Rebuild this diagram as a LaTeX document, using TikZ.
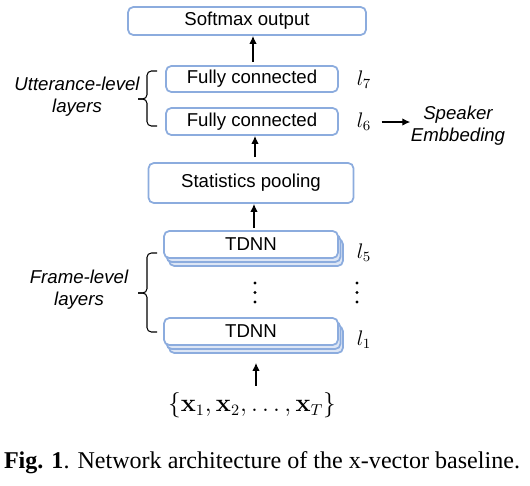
\documentclass[tikz,border=0pt]{standalone}
\usepackage{amsmath}
\usepackage[no-math]{fontspec}
\setmainfont{Liberation Sans}
\newfontfamily\capfont{Liberation Serif}
\usetikzlibrary{arrows.meta,shadows}
\definecolor{boxblue}{RGB}{140,172,222}

\begin{document}
\begin{tikzpicture}[x=0.02cm, y=-0.02cm, line width=0.7pt,
    layer/.style={draw=boxblue, fill=white, line width=1pt, rounded corners=3pt,
        font=\fontsize{10.6}{12}\selectfont, inner sep=0pt},
    stacked/.style={layer, double copy shadow={shadow xshift=0.05cm, shadow yshift=-0.08cm,
        fill=boxblue!30, draw=boxblue}},
    arr/.style={-{Latex[length=1.6mm, width=1.5mm]}},
    lbl/.style={font=\fontsize{12}{14}\selectfont},
    side/.style={align=center, font=\fontsize{10.6}{12.5}\selectfont\itshape},
    brc/.style={rounded corners=2.5pt, line width=0.6pt}]
    \useasboundingbox (0,0) rectangle (530,485);

    % Capas de arriba
    \node[layer, minimum width=4.76cm, minimum height=0.56cm] (soft) at (247,21) {Softmax output};
    \node[layer, minimum width=3.44cm, minimum height=0.52cm] (fc7) at (252,79) {Fully connected};
    \node[layer, minimum width=3.44cm, minimum height=0.54cm] (fc6) at (252,121.5) {Fully connected};
    \node[layer, minimum width=4.1cm, minimum height=0.8cm] (stats) at (251,183) {Statistics pooling};

    % TDNN apiladas
    \node[stacked, minimum width=3.48cm, minimum height=0.54cm] (tdnn5) at (251,244.5) {TDNN};
    \node[stacked, minimum width=3.48cm, minimum height=0.54cm] (tdnn1) at (251,331.5) {TDNN};
    \foreach \x in {255,357} {
        \foreach \y in {283,292.5,302} {
            \fill (\x,\y) circle (1.6);
        }
    }

    % Indices de capa
    \node[lbl] (l7) at (364,80) {$l_7$};
    \node[lbl] (l6) at (364,122) {$l_6$};
    \node[lbl] (l5) at (364,253) {$l_5$};
    \node[lbl] (l1) at (364,340) {$l_1$};

    % Entrada y salida
    \node[font=\fontsize{13.5}{15}\selectfont] (input) at (252,405)
        {$\{\mathbf{x}_1, \mathbf{x}_2, \ldots, \mathbf{x}_T\}$};
    \node[side, inner sep=0pt] (spk) at (458,126) {Speaker\\Embbeding};

    % Conexiones
    \draw[arr] (fc7.north) ++(1,-3) -- (soft.south -| 253,0);
    \draw[arr] (stats.north) ++(4,-5) -- (fc6.south -| 255,0);
    \draw[arr] (tdnn5.north) ++(3,-2) -- (stats.south -| 254,0);
    \draw[arr, shorten >=0.34cm] (input.north -| 256,0) -- (tdnn1.south -| 256,0);
    \draw[arr] (l6.east) ++(4,0) -- (l6.east -| spk.west);

    % Llaves
    \coordinate (utop) at (157,71);
    \coordinate (ubot) at (157,126);
    \coordinate (utip) at (138,99);
    \coordinate (ftop) at (157,253);
    \coordinate (fbot) at (157,332);
    \coordinate (ftip) at (138,293);
    \draw[brc] (utop) -- ++(-10,0) |- (utip);
    \draw[brc] (ubot) -- ++(-10,0) |- (utip);
    \draw[brc] (ftop) -- ++(-10,0) |- (ftip);
    \draw[brc] (fbot) -- ++(-10,0) |- (ftip);
    \node[side] (utt) at (77,97) {Utterance-level\\layers};
    \node[side] (frm) at (79,290) {Frame-level\\layers};

    % Pie
    \node[font=\capfont\fontsize{13.7}{16}\selectfont] (cap) at (262,463)
        {\textbf{Fig. 1}. Network architecture of the x-vector baseline.};
\end{tikzpicture}
\end{document}
